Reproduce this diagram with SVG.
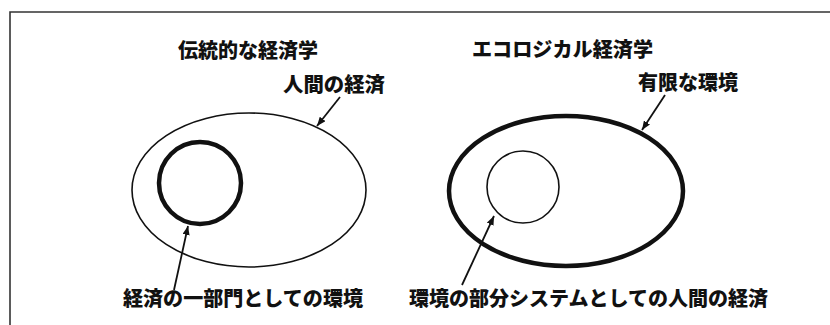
<svg xmlns="http://www.w3.org/2000/svg" width="830" height="325" viewBox="0 0 830 325">
  <style>
    .t { font-family: "Noto Sans CJK JP", "Noto Sans", sans-serif; font-weight: 900; font-size: 20px; fill: #111; }
    .thin { fill: none; stroke: #111; stroke-width: 1.6; }
    .thick { fill: none; stroke: #111; stroke-width: 4.5; }
    .conn { stroke: #111; stroke-width: 1.8; fill: none; marker-end: url(#ah); }
  </style>
  <defs>
    <marker id="ah" viewBox="0 0 10 8" refX="10" refY="4" markerWidth="5" markerHeight="4" orient="auto" markerUnits="strokeWidth">
      <path d="M0,0 L10,4 L0,8 Z" fill="#111"/>
    </marker>
  </defs>
  <rect width="830" height="325" fill="#fff"/>
  <path id="frame" d="M10,325 V12 H830" fill="none" stroke="#333" stroke-width="1.6"/>

  <g id="left-title"><text class="t" x="178" y="58" textLength="140" lengthAdjust="spacingAndGlyphs">伝統的な経済学</text></g>
  <g id="right-title"><text class="t" x="472" y="57" textLength="181" lengthAdjust="spacingAndGlyphs">エコロジカル経済学</text></g>

  <g id="human-economy-left">
    <ellipse class="thin" cx="249" cy="190" rx="117" ry="77"/>
    <text class="t" x="283" y="92" textLength="102" lengthAdjust="spacingAndGlyphs">人間の経済</text>
  </g>
  <g id="environment-left">
    <circle class="thick" cx="200" cy="183" r="41"/>
    <text class="t" x="123" y="306" textLength="240" lengthAdjust="spacingAndGlyphs">経済の一部門としての環境</text>
  </g>

  <g id="finite-environment">
    <ellipse class="thick" cx="566" cy="191" rx="117" ry="75"/>
    <text class="t" x="638" y="90" textLength="100" lengthAdjust="spacingAndGlyphs">有限な環境</text>
  </g>
  <g id="human-economy-right">
    <circle class="thin" cx="523" cy="187" r="36"/>
    <text class="t" x="409" y="306" textLength="359" lengthAdjust="spacingAndGlyphs">環境の部分システムとしての人間の経済</text>
  </g>

  <g id="connectors">
    <line class="conn" x1="340" y1="97" x2="317" y2="126"/>
    <line class="conn" x1="665" y1="95" x2="642" y2="130"/>
    <line class="conn" x1="174" y1="290" x2="188" y2="226"/>
    <line class="conn" x1="462" y1="285" x2="494" y2="216"/>
  </g>
</svg>
